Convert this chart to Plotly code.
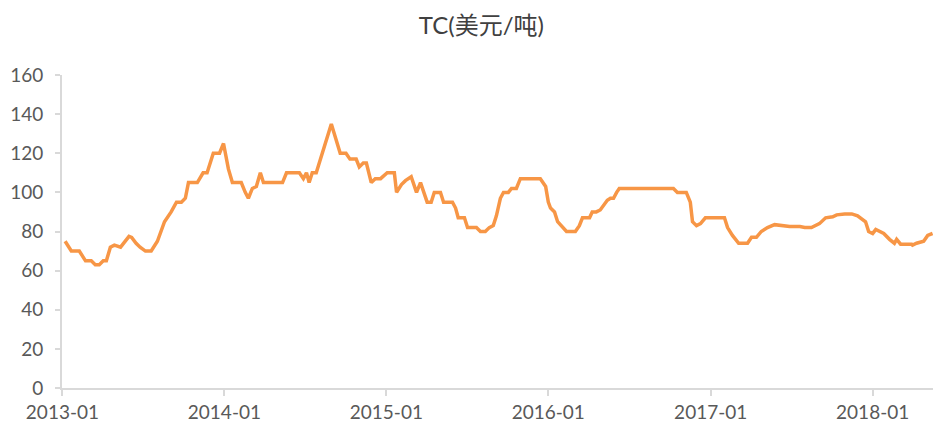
import plotly.graph_objects as go

dates = [
    "2013-01-07", "2013-01-21", "2013-02-08", "2013-02-22", "2013-03-07", "2013-03-16",
    "2013-03-25", "2013-04-03", "2013-04-10", "2013-04-19", "2013-04-28", "2013-05-12",
    "2013-05-31", "2013-06-06", "2013-06-16", "2013-06-25", "2013-07-07", "2013-07-20",
    "2013-08-03", "2013-08-19", "2013-09-03", "2013-09-15", "2013-09-26", "2013-10-05",
    "2013-10-12", "2013-11-01", "2013-11-14", "2013-11-23", "2013-12-07", "2013-12-21",
    "2013-12-30", "2014-01-10", "2014-01-19", "2014-02-08", "2014-02-17", "2014-02-24",
    "2014-03-05", "2014-03-14", "2014-03-23", "2014-03-30", "2014-05-12", "2014-05-21",
    "2014-06-19", "2014-06-28", "2014-07-05", "2014-07-11", "2014-07-18", "2014-07-27",
    "2014-08-30", "2014-09-19", "2014-10-02", "2014-10-11", "2014-10-25", "2014-11-01",
    "2014-11-10", "2014-11-17", "2014-11-28", "2014-12-07", "2014-12-19", "2015-01-03",
    "2015-01-19", "2015-01-24", "2015-02-04", "2015-02-13", "2015-02-26", "2015-03-10",
    "2015-03-19", "2015-04-03", "2015-04-12", "2015-04-19", "2015-05-03", "2015-05-10",
    "2015-05-30", "2015-06-06", "2015-06-12", "2015-06-26", "2015-07-03", "2015-07-23",
    "2015-08-01", "2015-08-12", "2015-08-21", "2015-08-30", "2015-09-06", "2015-09-15",
    "2015-09-22", "2015-10-03", "2015-10-10", "2015-10-21", "2015-10-30", "2015-12-14",
    "2015-12-26", "2016-01-01", "2016-01-06", "2016-01-15", "2016-01-22", "2016-02-02",
    "2016-02-11", "2016-03-02", "2016-03-11", "2016-03-18", "2016-04-03", "2016-04-09",
    "2016-04-18", "2016-04-27", "2016-05-04", "2016-05-13", "2016-05-20", "2016-05-27",
    "2016-06-03", "2016-06-09", "2016-10-09", "2016-10-18", "2016-11-07", "2016-11-16",
    "2016-11-21", "2016-11-30", "2016-12-09", "2016-12-20", "2017-02-01", "2017-02-08",
    "2017-02-19", "2017-03-05", "2017-03-25", "2017-04-03", "2017-04-14", "2017-04-25",
    "2017-05-09", "2017-05-25", "2017-06-28", "2017-07-21", "2017-08-01", "2017-08-16",
    "2017-09-03", "2017-09-17", "2017-10-03", "2017-10-12", "2017-10-30", "2017-11-15",
    "2017-11-28", "2017-12-16", "2017-12-23", "2018-01-01", "2018-01-08", "2018-01-17",
    "2018-01-26", "2018-02-08", "2018-02-19", "2018-02-24", "2018-03-05", "2018-03-30",
    "2018-04-01", "2018-04-10", "2018-04-26", "2018-05-05", "2018-05-16",
]

tc_values = [
    75, 70, 70, 65, 65, 63,
    63, 65, 65, 72, 73, 72,
    77.5, 77, 74, 72, 70, 70,
    75, 85, 90, 95, 95, 97,
    105, 105, 110, 110, 120, 120,
    125, 112, 105, 105, 100, 97,
    102, 103, 110, 105, 105, 110,
    110, 107, 110, 105, 110, 110,
    135, 120, 120, 117, 117, 113,
    115, 115, 105, 107, 107, 110,
    110, 100, 104, 106, 108, 100,
    105, 95, 95, 100, 100, 95,
    95, 92, 87, 87, 82, 82,
    80, 80, 82, 83, 88, 97,
    100, 100, 102, 102, 107, 107,
    103, 95, 92, 90, 85, 82,
    80, 80, 83, 87, 87, 90,
    90, 91, 93, 96, 97, 97,
    100, 102, 102, 100, 100, 95,
    85, 83, 84, 87, 87, 82,
    78, 74, 74, 77, 77, 80,
    82, 83.5, 82.5, 82.5, 82, 82,
    84, 87, 87.5, 88.5, 89, 89,
    88, 85, 80, 79, 81, 80,
    79, 76, 74, 76, 73.5, 73.5,
    73, 74, 75, 78, 79,
]

x_tick_vals = ["2013-01-01", "2014-01-01", "2015-01-01", "2016-01-01", "2017-01-01", "2018-01-01"]
x_tick_text = ["2013-01", "2014-01", "2015-01", "2016-01", "2017-01", "2018-01"]
y_ticks = [0, 20, 40, 60, 80, 100, 120, 140, 160]

title_text = "TC(美元/吨)"

fig = go.Figure()
fig.add_trace(go.Scatter(
    x=dates, y=tc_values, mode="lines",
    line=dict(color="#F79646", width=3.5),
    showlegend=False,
))

font_family = "Lato, 'Liberation Sans', 'Noto Sans CJK SC', sans-serif"
fig.update_layout(
    width=933, height=424,
    margin=dict(l=62, r=0, t=75, b=36),
    paper_bgcolor="white", plot_bgcolor="white",
    font=dict(family=font_family, color="#595959", size=19),
    title=dict(
        text=title_text, x=0.516, xanchor="center", y=0.94, yanchor="middle",
        xref="container", yref="container",
        font=dict(family="Lato, 'Noto Sans CJK SC', sans-serif", size=24, color="#404040"),
    ),
    xaxis=dict(
        type="date",
        range=["2012-12-31", "2018-05-17"],
        tickvals=x_tick_vals, ticktext=x_tick_text,
        showgrid=False, zeroline=False,
        showline=True, linecolor="#D9D9D9", linewidth=2,
        ticks="outside", ticklen=6, tickcolor="#D9D9D9", tickwidth=2,
        tickfont=dict(size=19, color="#595959"),
    ),
    yaxis=dict(
        range=[0, 160], tickvals=y_ticks,
        showgrid=False, zeroline=False,
        showline=True, linecolor="#D9D9D9", linewidth=2,
        ticks="outside", ticklen=5, tickcolor="#D9D9D9", tickwidth=2,
        tickfont=dict(size=19, color="#595959"),
        ticklabelstandoff=8,
    ),
)

fig.write_html(
    "out.html",
    config={"displayModeBar": False},
    post_script="document.body.style.margin='0';document.body.style.overflow='hidden';",
)
